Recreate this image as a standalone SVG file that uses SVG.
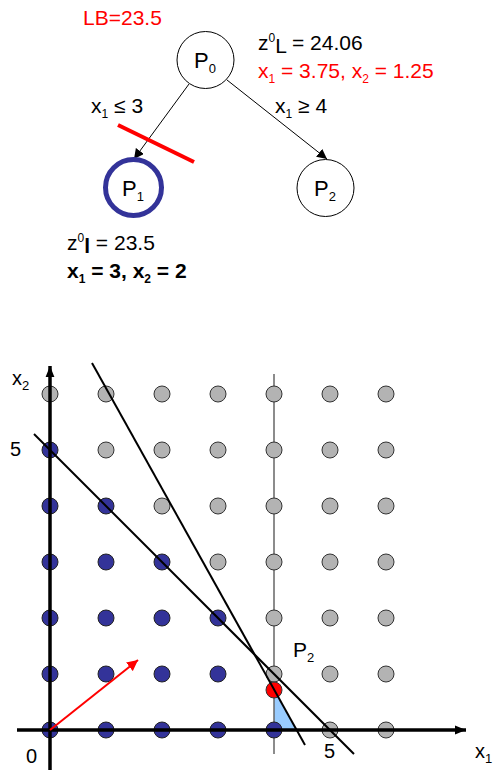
<svg xmlns="http://www.w3.org/2000/svg" width="493" height="776" viewBox="0 0 493 776">
<style>
text{font-family:"Liberation Sans",Arial,sans-serif;fill:#000}
.t18{font-size:21px}
.red{fill:#f00}
.node{fill:#fff;stroke:#000;stroke-width:1}
.edge{stroke:#000;stroke-width:1;fill:none}
.b{fill:#333399;stroke:#222;stroke-width:1}
.g{fill:#b3b3b3;stroke:#333;stroke-width:1}
.ln{stroke:#000;stroke-width:2;fill:none}
.ax{stroke:#000;stroke-width:3.5;fill:none}
.sub{font-size:12px}
</style>
<defs>
<marker id="ah" viewBox="0 0 10 10" refX="10" refY="5" markerWidth="10" markerHeight="10" markerUnits="userSpaceOnUse" orient="auto"><path d="M0,0 L10,5 L0,10 z" fill="#000"/></marker>
<marker id="ahr" viewBox="0 0 10 10" refX="10" refY="5" markerWidth="11" markerHeight="11" markerUnits="userSpaceOnUse" orient="auto"><path d="M0,0 L10,5 L0,10 z" fill="#f00"/></marker>
<marker id="aha" viewBox="0 0 10 10" refX="10" refY="5" markerWidth="11" markerHeight="11" markerUnits="userSpaceOnUse" orient="auto"><path d="M0,1 L10,5 L0,9 z" fill="#000"/></marker>
</defs>

<text class="t18 red" x="83" y="25">LB=23.5</text>

<g id="connectors">
<line class="edge" x1="189" y1="84" x2="134" y2="159" marker-end="url(#ah)"/>
<line class="edge" x1="227" y1="80" x2="327" y2="159" marker-end="url(#ah)"/>
<line x1="118" y1="125" x2="194" y2="162" stroke="#f00" stroke-width="4"/>
</g>

<g id="P0">
<circle class="node" cx="205.5" cy="60" r="28.5"/>
<text x="194" y="68" font-size="22">P<tspan font-size="13" dy="5">0</tspan></text>
</g>
<g id="P1">
<circle cx="133.5" cy="187.5" r="28" fill="#fff" stroke="#333399" stroke-width="5"/>
<text x="122" y="196" font-size="22">P<tspan font-size="13" dy="5">1</tspan></text>
</g>
<g id="P2">
<circle class="node" cx="325.5" cy="188" r="28.5"/>
<text x="314" y="196" font-size="22">P<tspan font-size="13" dy="5">2</tspan></text>
</g>

<text class="t18" x="258" y="50">z<tspan class="sub" dy="-8">0</tspan><tspan dy="11">L</tspan><tspan dy="-3"> = 24.06</tspan></text>
<text class="t18 red" x="258" y="78">x<tspan class="sub" dy="5">1</tspan><tspan dy="-5"> = 3.75, x</tspan><tspan class="sub" dy="5">2</tspan><tspan dy="-5"> = 1.25</tspan></text>
<text class="t18" x="91" y="113">x<tspan class="sub" dy="5">1</tspan><tspan dy="-5"> ≤ 3</tspan></text>
<text class="t18" x="275" y="113">x<tspan class="sub" dy="5">1</tspan><tspan dy="-5"> ≥ 4</tspan></text>
<text class="t18" x="67" y="250">z<tspan class="sub" dy="-8">0</tspan><tspan dy="11" font-weight="bold">l</tspan><tspan dy="-3">  = 23.5</tspan></text>
<text class="t18" x="67" y="278" font-weight="bold">x<tspan class="sub" dy="5">1</tspan><tspan dy="-5"> = 3, x</tspan><tspan class="sub" dy="5">2</tspan><tspan dy="-5"> = 2</tspan></text>

<!-- bottom plot -->
<polygon points="274,690 274,730 297,730" fill="#99ccff"/>
<line x1="274" y1="374" x2="274" y2="754" stroke="#666" stroke-width="1.5"/>

<g id="dots">
<circle class="g" cx="50" cy="394" r="8"/><circle class="g" cx="106" cy="394" r="8"/><circle class="g" cx="162" cy="394" r="8"/><circle class="g" cx="218" cy="394" r="8"/><circle class="g" cx="274" cy="394" r="8"/><circle class="g" cx="330" cy="394" r="8"/><circle class="g" cx="386" cy="394" r="8"/>
<circle class="b" cx="50" cy="450" r="8"/><circle class="g" cx="106" cy="450" r="8"/><circle class="g" cx="162" cy="450" r="8"/><circle class="g" cx="218" cy="450" r="8"/><circle class="g" cx="274" cy="450" r="8"/><circle class="g" cx="330" cy="450" r="8"/><circle class="g" cx="386" cy="450" r="8"/>
<circle class="b" cx="50" cy="506" r="8"/><circle class="b" cx="106" cy="506" r="8"/><circle class="g" cx="162" cy="506" r="8"/><circle class="g" cx="218" cy="506" r="8"/><circle class="g" cx="274" cy="506" r="8"/><circle class="g" cx="330" cy="506" r="8"/><circle class="g" cx="386" cy="506" r="8"/>
<circle class="b" cx="50" cy="562" r="8"/><circle class="b" cx="106" cy="562" r="8"/><circle class="b" cx="162" cy="562" r="8"/><circle class="g" cx="218" cy="562" r="8"/><circle class="g" cx="274" cy="562" r="8"/><circle class="g" cx="330" cy="562" r="8"/><circle class="g" cx="386" cy="562" r="8"/>
<circle class="b" cx="50" cy="618" r="8"/><circle class="b" cx="106" cy="618" r="8"/><circle class="b" cx="162" cy="618" r="8"/><circle class="b" cx="218" cy="618" r="8"/><circle class="g" cx="274" cy="618" r="8"/><circle class="g" cx="330" cy="618" r="8"/><circle class="g" cx="386" cy="618" r="8"/>
<circle class="b" cx="50" cy="674" r="8"/><circle class="b" cx="106" cy="674" r="8"/><circle class="b" cx="162" cy="674" r="8"/><circle class="b" cx="218" cy="674" r="8"/><circle class="g" cx="274" cy="674" r="8"/><circle class="g" cx="330" cy="674" r="8"/><circle class="g" cx="386" cy="674" r="8"/>
<circle class="b" cx="50" cy="730" r="8"/><circle class="b" cx="106" cy="730" r="8"/><circle class="b" cx="162" cy="730" r="8"/><circle class="b" cx="218" cy="730" r="8"/><circle class="b" cx="274" cy="730" r="8"/><circle class="g" cx="330" cy="730" r="8"/><circle class="g" cx="386" cy="730" r="8"/>
<circle cx="274" cy="690" r="8" fill="#f00" stroke="#333" stroke-width="1"/>
</g>

<line class="ax" x1="17" y1="730" x2="466" y2="730" marker-end="url(#aha)"/>
<line class="ax" x1="50" y1="770" x2="50" y2="366" marker-end="url(#aha)"/>

<line class="ln" x1="34" y1="434" x2="354" y2="754"/>
<line class="ln" x1="92" y1="363" x2="305" y2="745"/>
<line x1="50" y1="730" x2="138" y2="660" stroke="#f00" stroke-width="2" marker-end="url(#ahr)"/>

<text x="12" y="385" font-size="20">x<tspan font-size="13" dy="5">2</tspan></text>
<text x="10" y="456" font-size="20">5</text>
<text x="26" y="763" font-size="20">0</text>
<text x="324" y="758" font-size="20">5</text>
<text x="475" y="758" font-size="20">x<tspan font-size="13" dy="5">1</tspan></text>
<text x="293" y="657" font-size="21">P<tspan font-size="13" dy="5">2</tspan></text>
</svg>
